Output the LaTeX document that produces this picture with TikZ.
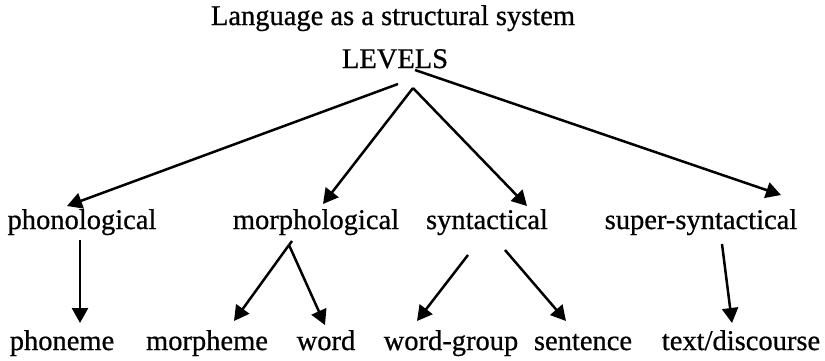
\documentclass[tikz,border=0pt]{standalone}
\usepackage{fontspec}
\setmainfont{Liberation Serif}[FakeBold=0.7]
\usetikzlibrary{arrows.meta}
\begin{document}
\begin{tikzpicture}[x=1pt,y=-1pt,
  lbl/.style={inner sep=0pt,anchor=base,font=\fontsize{28.5}{32}\selectfont},
  arr/.style={line width=2.5pt,-{Triangle[length=15pt,width=16pt]}},
  ln/.style={line width=2.5pt}]
\useasboundingbox (0,0) rectangle (825,360);
% titles
\node[lbl] (title) at (393,25) {Language as a structural system};
\node[lbl] (levels) at (395,68) {LEVELS};
% second row
\node[lbl] (phon) at (82,229) {phonological};
\node[lbl] (morph) at (316,229) {morphological};
\node[lbl] (synt) at (487,229) {syntactical};
\node[lbl] (super) at (701,229) {super-syntactical};
% third row
\node[lbl] (phoneme) at (62,350) {phoneme};
\node[lbl] (morpheme) at (207,350) {morpheme};
\node[lbl] (word) at (326,350) {word};
\node[lbl] (wgroup) at (451,350) {word-group};
\node[lbl] (sentence) at (583,350) {sentence};
\node[lbl] (text) at (741,350) {text/discourse};
% connector ends
\coordinate (lvA) at (398,84);
\coordinate (lvB) at (413,88);
\coordinate (lvC) at (415,70);
\coordinate (phonT) at (67,206);
\coordinate (morphT) at (323,204);
\coordinate (syntT) at (527,206);
\coordinate (superT) at (781,195);
\coordinate (phonB) at (80,240);
\coordinate (phonemeT) at (80,323);
\coordinate (morphB) at (289,245);
\coordinate (morphK) at (292,241);
\coordinate (morphemeT) at (234,321);
\coordinate (wordT) at (325,325);
\coordinate (syntBL) at (468,255);
\coordinate (syntBR) at (505,250);
\coordinate (wgroupT) at (417,321);
\coordinate (sentenceT) at (566,321);
\coordinate (superB) at (722,244);
\coordinate (textT) at (732,323);
% level arrows
\draw[arr] (lvA) -- (phonT);
\draw[arr] (lvB) -- (morphT);
\draw[arr] (lvB) -- (syntT);
\draw[arr] (lvC) -- (superT);
% unit arrows
\draw[arr] (phonB) -- (phonemeT);
\draw[ln] (morphK) -- (morphB);
\draw[arr] (morphB) -- (morphemeT);
\draw[arr] (morphB) -- (wordT);
\draw[arr] (syntBL) -- (wgroupT);
\draw[arr] (syntBR) -- (sentenceT);
\draw[arr] (superB) -- (textT);
\end{tikzpicture}
\end{document}
